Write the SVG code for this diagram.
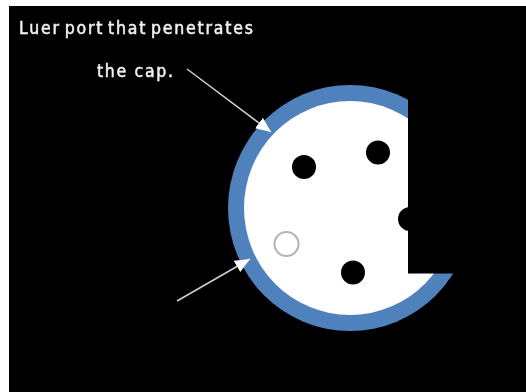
<svg xmlns="http://www.w3.org/2000/svg" width="526" height="392" viewBox="0 0 526 392">
<defs>
<style>
.lbl{font-family:"DejaVu Sans Condensed","DejaVu Sans",sans-serif;font-size:17.500px;font-weight:400;fill:#f2f2f2;stroke:#f2f2f2;stroke-width:0.5}
.hole{fill:#000}
.conn{stroke:#d0d0d0;stroke-width:1.5;fill:none;marker-end:url(#ah)}
</style>
<marker id="ah" markerUnits="userSpaceOnUse" markerWidth="16" markerHeight="14" refX="15" refY="7" orient="auto"><path d="M0 0.500L15 7L0 13.500Z" fill="#fff"/></marker>
<filter id="s" x="-5%" y="-5%" width="110%" height="110%"><feGaussianBlur stdDeviation="0.7"/></filter>
<filter id="t" x="-5%" y="-20%" width="110%" height="140%"><feGaussianBlur stdDeviation="0.45"/></filter>
</defs>
<rect width="526" height="392" fill="#fff"/>
<rect x="9" y="6" width="517" height="386" fill="#000"/>
<g id="cap" filter="url(#s)">
<ellipse cx="350" cy="208" rx="122" ry="123" fill="#4f81bd"/>
<ellipse cx="350" cy="208" rx="106" ry="107" fill="#fff"/>
<circle class="hole" cx="304" cy="167" r="12"/>
<circle class="hole" cx="378" cy="152.500" r="12"/>
<circle class="hole" cx="353" cy="272.500" r="12"/>
<circle class="hole" cx="410" cy="219" r="12"/>
<circle cx="286.500" cy="244" r="12" fill="#fff" stroke="#b3b3b3" stroke-width="2"/>
<rect x="408" y="80" width="70" height="193.500" fill="#000"/>
</g>
<g id="connectors" filter="url(#s)">
<line class="conn" x1="187" y1="69" x2="271" y2="132"/>
<line class="conn" x1="177" y1="301" x2="250" y2="259"/>
</g>
<g id="label" filter="url(#t)">
<text class="lbl" x="19" y="34" textLength="234" lengthAdjust="spacing" word-spacing="-3">Luer port that penetrates</text>
<text class="lbl" x="97" y="77" textLength="76" lengthAdjust="spacing">the cap.</text>
</g>
</svg>
